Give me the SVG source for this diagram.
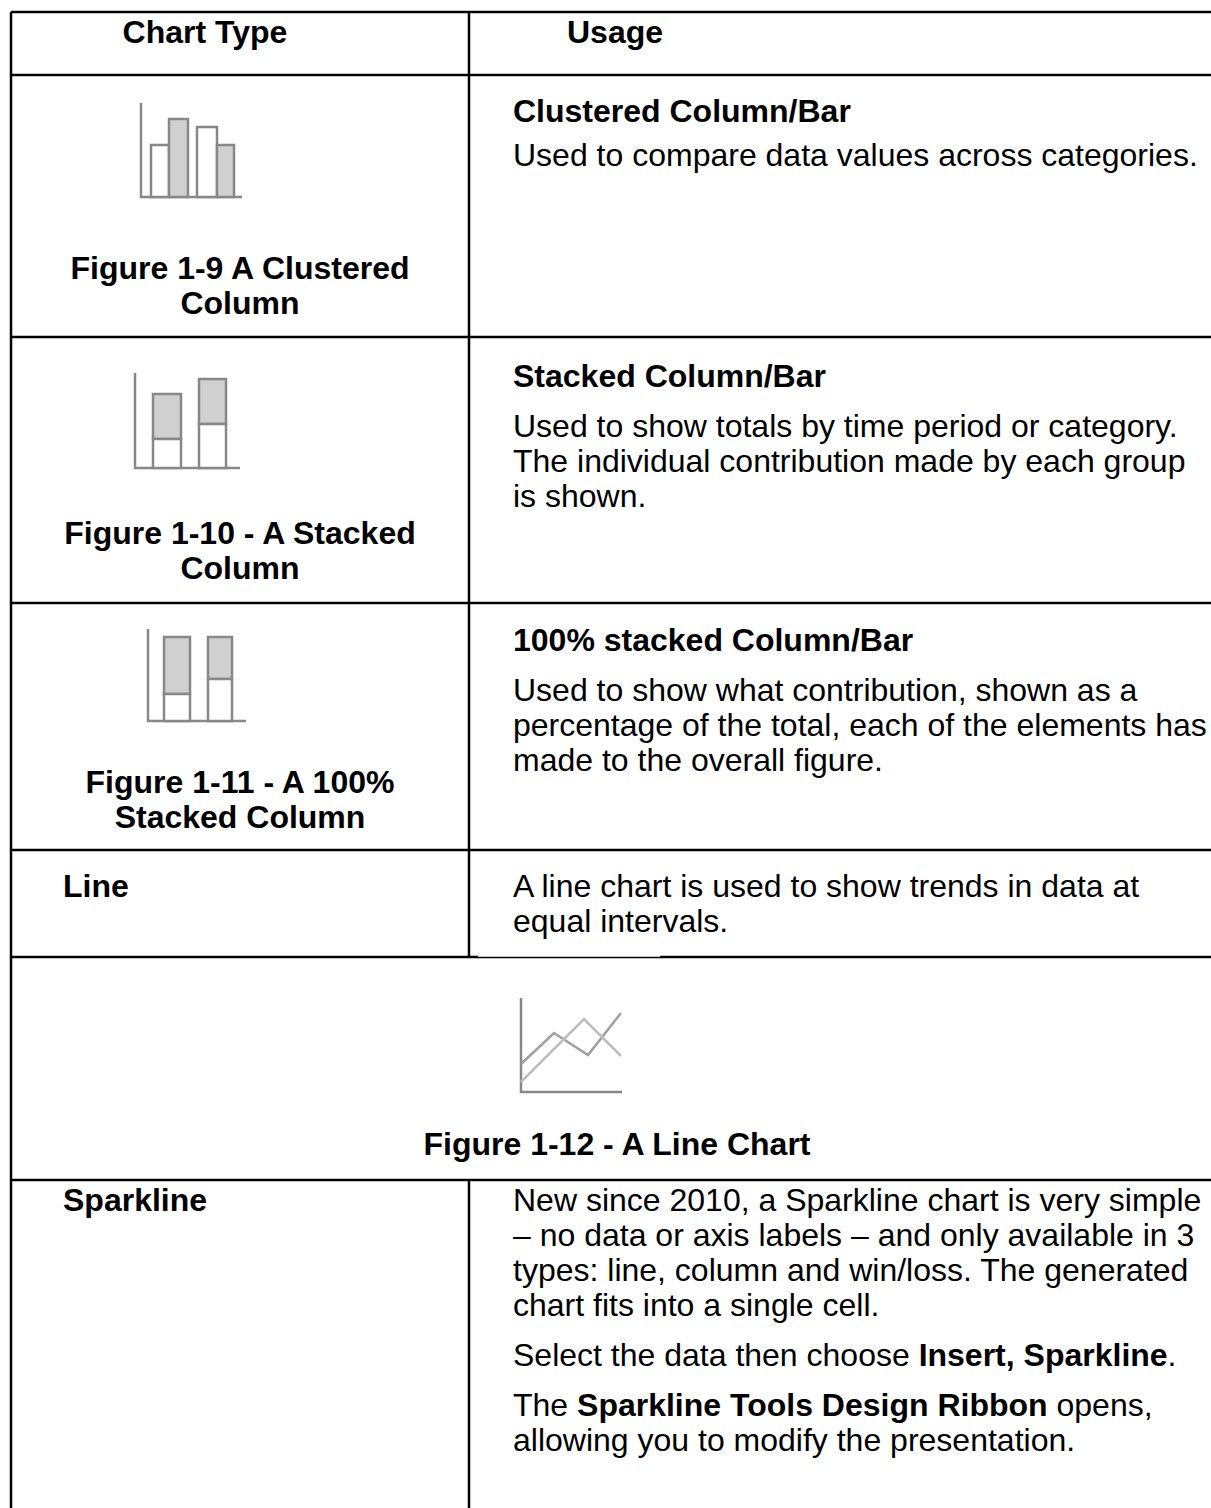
<svg xmlns="http://www.w3.org/2000/svg" width="1211" height="1508" viewBox="0 0 1211 1508">
<style>
text{font-family:"Liberation Sans",Arial,sans-serif;font-size:32px;fill:#000}
.b{font-weight:bold}
.c{text-anchor:middle}
.grid{stroke:#000;stroke-width:2.5;fill:none}
.ax{stroke:#888;stroke-width:2.5;fill:none}
.bw{fill:#fff;stroke:#888;stroke-width:2.5}
.bg{fill:#d0d0d0;stroke:#888;stroke-width:2.5}
</style>
<rect width="1211" height="1508" fill="#fff"/>
<g id="table-grid" class="grid">
<line x1="11" y1="12" x2="1211" y2="12"/>
<line x1="11" y1="12" x2="11" y2="1508"/>
<line x1="469" y1="12" x2="469" y2="957"/>
<line x1="469" y1="1180" x2="469" y2="1508"/>
<line x1="11" y1="75" x2="1211" y2="75"/>
<line x1="11" y1="337" x2="1211" y2="337"/>
<line x1="11" y1="603" x2="1211" y2="603"/>
<line x1="11" y1="850" x2="1211" y2="850"/>
<line x1="11" y1="957" x2="478" y2="957"/>
<line x1="660" y1="957" x2="1211" y2="957"/>
<line x1="11" y1="1180" x2="1211" y2="1180"/>
</g>
<line x1="478" y1="957.5" x2="660" y2="957.5" stroke="#000" stroke-width="1.5"/>
<g id="header">
<text class="b c" x="205" y="43">Chart Type</text>
<text class="b c" x="615" y="43">Usage</text>
</g>
<g id="row-clustered">
<g id="icon-clustered">
<polyline class="ax" points="141,103 141,197 242,197"/>
<rect class="bw" x="151" y="145" width="18" height="52"/>
<rect class="bg" x="169" y="119" width="19" height="78"/>
<rect class="bw" x="197" y="127" width="20" height="70"/>
<rect class="bg" x="217" y="145" width="17" height="52"/>
</g>
<text class="b c" x="240" y="279">Figure 1-9 A Clustered</text>
<text class="b c" x="240" y="314">Column</text>
<text class="b" x="513" y="122">Clustered Column/Bar</text>
<text x="513" y="166">Used to compare data values across categories.</text>
</g>
<g id="row-stacked">
<g id="icon-stacked">
<polyline class="ax" points="135,373 135,468 240,468"/>
<rect class="bg" x="153" y="394" width="28" height="45"/>
<rect class="bw" x="153" y="439" width="28" height="29"/>
<rect class="bg" x="199" y="379" width="27" height="45"/>
<rect class="bw" x="199" y="424" width="27" height="44"/>
</g>
<text class="b c" x="240" y="544">Figure 1-10 - A Stacked</text>
<text class="b c" x="240" y="579">Column</text>
<text class="b" x="513" y="387">Stacked Column/Bar</text>
<text x="513" y="437">Used to show totals by time period or category.</text>
<text x="513" y="472">The individual contribution made by each group</text>
<text x="513" y="507">is shown.</text>
</g>
<g id="row-100-stacked">
<g id="icon-100-stacked">
<polyline class="ax" points="148,629 148,721 246,721"/>
<rect class="bg" x="164" y="637" width="26" height="57"/>
<rect class="bw" x="164" y="694" width="26" height="27"/>
<rect class="bg" x="208" y="637" width="24" height="42"/>
<rect class="bw" x="208" y="679" width="24" height="42"/>
</g>
<text class="b c" x="240" y="793">Figure 1-11 - A 100%</text>
<text class="b c" x="240" y="828">Stacked Column</text>
<text class="b" x="513" y="651">100% stacked Column/Bar</text>
<text x="513" y="701">Used to show what contribution, shown as a</text>
<text x="513" y="736">percentage of the total, each of the elements has</text>
<text x="513" y="771">made to the overall figure.</text>
</g>
<g id="row-line">
<text class="b" x="63" y="897">Line</text>
<text x="513" y="897">A line chart is used to show trends in data at</text>
<text x="513" y="932">equal intervals.</text>
</g>
<g id="row-line-figure">
<g id="icon-line">
<polyline class="ax" points="521,998 521,1092 622,1092"/>
<polyline points="521,1064 554,1033 588,1055 621,1013" fill="none" stroke="#a0a0a0" stroke-width="2.5"/>
<polyline points="521,1082 584,1019 621,1056" fill="none" stroke="#bdbdbd" stroke-width="2.5"/>
</g>
<text class="b c" x="617" y="1155">Figure 1-12 - A Line Chart</text>
</g>
<g id="row-sparkline">
<text class="b" x="63" y="1211">Sparkline</text>
<text x="513" y="1211">New since 2010, a Sparkline chart is very simple</text>
<text x="513" y="1246">– no data or axis labels – and only available in 3</text>
<text x="513" y="1281">types: line, column and win/loss. The generated</text>
<text x="513" y="1316">chart fits into a single cell.</text>
<text x="513" y="1366">Select the data then choose <tspan class="b">Insert, Sparkline</tspan>.</text>
<text x="513" y="1416">The <tspan class="b">Sparkline Tools Design Ribbon</tspan> opens,</text>
<text x="513" y="1451">allowing you to modify the presentation.</text>
</g>
</svg>
